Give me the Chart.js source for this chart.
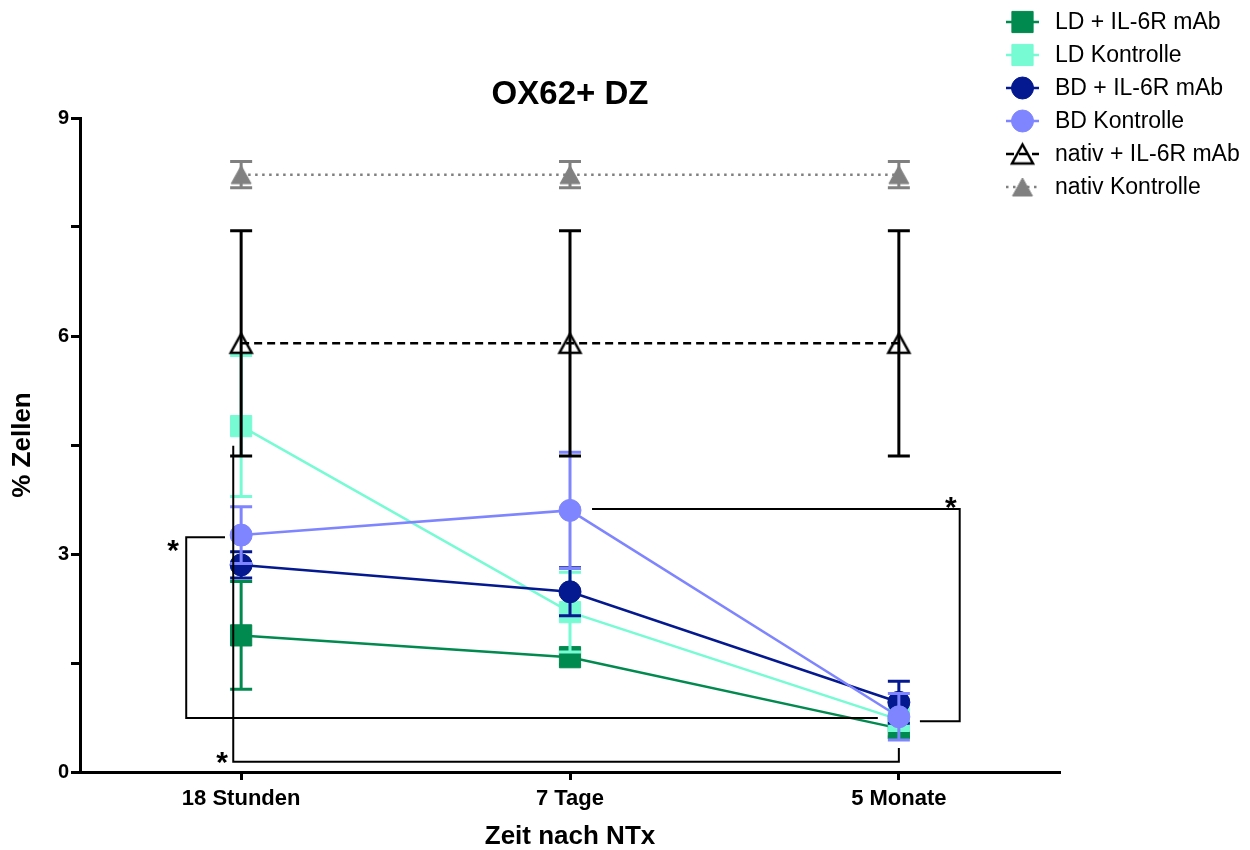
<!DOCTYPE html>
<html>
<head>
<meta charset="utf-8">
<title>OX62+ DZ</title>
<script src="https://cdn.jsdelivr.net/npm/chart.js@4.4.1/dist/chart.umd.min.js"></script>
<style>
  html, body { margin: 0; padding: 0; background: #ffffff; }
  #wrap { width: 1250px; height: 850px; }
</style>
</head>
<body>
<div id="wrap"><canvas id="chart" width="1250" height="850"></canvas></div>
<script>
// ---- data ----------------------------------------------------------------
const timepoints = ['18 Stunden', '7 Tage', '5 Monate'];

const ldMab      = [1.88, 1.58, 0.60];
const ldMabSem   = [0.74, 0.10, 0.12];
const ldCtrl     = [4.76, 2.20, 0.72];
const ldCtrlSem  = [0.97, 0.55, 0.15];
const bdMab      = [2.85, 2.48, 0.96];
const bdMabSem   = [0.18, 0.33, 0.29];
const bdCtrl     = [3.26, 3.60, 0.76];
const bdCtrlSem  = [0.39, 0.80, 0.32];
const natMab     = [5.90, 5.90, 5.90];
const natMabSem  = [1.55, 1.55, 1.55];
const natCtrl    = [8.22, 8.22, 8.22];
const natCtrlSem = [0.18, 0.18, 0.18];

const seriesLabels = ['LD + IL-6R mAb', 'LD Kontrolle', 'BD + IL-6R mAb',
                      'BD Kontrolle', 'nativ + IL-6R mAb', 'nativ Kontrolle'];
const yTickValues = [0, 3, 6, 9];

// significance brackets in axis units (x = timepoint index, y = % Zellen)
const brackets = [
  { path: [[-0.049, 3.23], [-0.167, 3.23], [-0.167, 0.743], [1.936, 0.743]], star: [-0.207, 3.15] },
  { path: [[1.067, 3.62], [2.185, 3.62], [2.185, 0.70], [2.064, 0.70]],     star: [2.158, 3.74] },
  { path: [[-0.024, 4.49], [-0.024, 0.14], [2.0, 0.14], [2.0, 0.33]],       star: [-0.058, 0.23] }
];

// ---- styling ---------------------------------------------------------------
const FONT = "'Liberation Sans', Arial, Helvetica, sans-serif";
Chart.defaults.font.family = FONT;
Chart.defaults.color = '#000000';

// centred triangle marker rendered once to a small canvas
function triangleMarker(w, h, fill, stroke, bw) {
  const pad = Math.ceil(bw) + 1;
  const c = document.createElement('canvas');
  c.width = Math.ceil(w + 2 * pad);
  c.height = Math.ceil(h + 2 * pad);
  const g = c.getContext('2d');
  const cx = c.width / 2, cy = c.height / 2;
  g.beginPath();
  g.moveTo(cx, cy - h / 2);
  g.lineTo(cx + w / 2, cy + h / 2);
  g.lineTo(cx - w / 2, cy + h / 2);
  g.closePath();
  if (fill) { g.fillStyle = fill; g.fill(); }
  if (bw > 0) { g.lineWidth = bw; g.strokeStyle = stroke; g.lineJoin = 'miter'; g.stroke(); }
  return c;
}
const openTriangle = triangleMarker(21, 19, null, '#000000', 2.5);
const greyTriangle = triangleMarker(20, 18, '#808080', '#808080', 1);

const seriesStyles = [
  { values: ldMab,   errors: ldMabSem,   color: '#008A4F', fill: '#008A4F', shape: 'rect',       radius: 15, pbw: 1, dash: [] },
  { values: ldCtrl,  errors: ldCtrlSem,  color: '#76FBD3', fill: '#76FBD3', shape: 'rect',       radius: 15, pbw: 1, dash: [] },
  { values: bdMab,   errors: bdMabSem,   color: '#04188F', fill: '#04188F', shape: 'circle',     radius: 11, pbw: 1, dash: [] },
  { values: bdCtrl,  errors: bdCtrlSem,  color: '#7F85FF', fill: '#7F85FF', shape: 'circle',     radius: 11, pbw: 1, dash: [] },
  { values: natMab,  errors: natMabSem,  color: '#000000', fill: 'rgba(0,0,0,0)', shape: openTriangle, radius: 11, pbw: 0, dash: [8, 5] },
  { values: natCtrl, errors: natCtrlSem, color: '#808080', fill: '#808080', shape: greyTriangle, radius: 11, pbw: 0, dash: [2.5, 4.5] }
];

const datasets = seriesStyles.map((s, i) => ({
  label: seriesLabels[i],
  data: s.values.map((v, k) => ({ x: k, y: v })),
  errors: s.errors,
  borderColor: s.color,
  backgroundColor: s.fill,
  borderWidth: 2.5,
  borderDash: s.dash,
  pointStyle: s.shape,
  pointRadius: s.radius,
  pointHoverRadius: s.radius,
  pointBackgroundColor: s.fill,
  pointBorderColor: s.color,
  pointBorderWidth: s.pbw,
  pointHoverBorderWidth: s.pbw,
  fill: false,
  tension: 0,
  // later series are painted on top
  order: seriesStyles.length - i
}));

// ---- helpers ---------------------------------------------------------------
function drawMarker(ctx, shape, r, x, y, fill, stroke, bw) {
  if (typeof shape !== 'string') {
    ctx.drawImage(shape, x - shape.width / 2, y - shape.height / 2);
    return;
  }
  ctx.save();
  ctx.setLineDash([]);
  ctx.beginPath();
  if (shape === 'rect') {
    const h = r * Math.SQRT1_2;
    ctx.rect(x - h, y - h, 2 * h, 2 * h);
  } else {
    ctx.arc(x, y, r, 0, Math.PI * 2);
  }
  ctx.fillStyle = fill;
  ctx.fill();
  ctx.lineWidth = bw;
  ctx.strokeStyle = stroke;
  ctx.stroke();
  ctx.restore();
}

// SEM bars, painted just beneath each series' own line and markers
const errorBars = {
  id: 'errorBars',
  beforeDatasetDraw(chart, args) {
    const ds = chart.data.datasets[args.index];
    if (!ds.errors) return;
    const ys = chart.scales.y;
    const ctx = chart.ctx;
    const cap = 11;
    ctx.save();
    ctx.strokeStyle = ds.borderColor;
    ctx.lineWidth = 3;
    ctx.setLineDash([]);
    args.meta.data.forEach((pt, k) => {
      const v = ds.data[k].y;
      const e = ds.errors[k];
      const yTop = ys.getPixelForValue(v + e);
      const yBot = ys.getPixelForValue(v - e);
      ctx.beginPath();
      ctx.moveTo(pt.x, yTop); ctx.lineTo(pt.x, yBot);
      ctx.moveTo(pt.x - cap, yTop); ctx.lineTo(pt.x + cap, yTop);
      ctx.moveTo(pt.x - cap, yBot); ctx.lineTo(pt.x + cap, yBot);
      ctx.stroke();
    });
    ctx.restore();
  }
};

// title, significance brackets and legend
const decorations = {
  id: 'decorations',
  afterDraw(chart) {
    const ctx = chart.ctx;
    const xs = chart.scales.x, ys = chart.scales.y;
    const area = chart.chartArea;

    ctx.save();
    ctx.fillStyle = '#000';
    ctx.font = `bold 33px ${FONT}`;
    ctx.textAlign = 'center';
    ctx.textBaseline = 'middle';
    ctx.fillText('OX62+ DZ', (area.left + area.right) / 2, 95);

    // brackets
    ctx.strokeStyle = '#000';
    ctx.lineWidth = 2;
    ctx.setLineDash([]);
    brackets.forEach(b => {
      ctx.beginPath();
      b.path.forEach((p, k) => {
        const px = xs.getPixelForValue(p[0]);
        const py = ys.getPixelForValue(p[1]);
        if (k === 0) ctx.moveTo(px, py); else ctx.lineTo(px, py);
      });
      ctx.stroke();
      ctx.font = `bold 30px ${FONT}`;
      ctx.textBaseline = 'alphabetic';
      ctx.fillText('*', xs.getPixelForValue(b.star[0]), ys.getPixelForValue(b.star[1]) + 17);
    });

    // legend
    const lx0 = 1006, lx1 = 1039, mx = 1022.5, tx = 1055;
    ctx.font = `23px ${FONT}`;
    ctx.textAlign = 'left';
    ctx.textBaseline = 'middle';
    chart.data.datasets.forEach((ds, i) => {
      const s = seriesStyles[i];
      const y = 22 + 33 * i;
      ctx.save();
      ctx.strokeStyle = ds.borderColor;
      ctx.lineWidth = 2.5;
      ctx.setLineDash(s.dash.length ? s.dash : []);
      ctx.beginPath();
      ctx.moveTo(lx0, y); ctx.lineTo(lx1, y);
      ctx.stroke();
      ctx.restore();
      drawMarker(ctx, s.shape, s.radius, mx, y, s.fill, s.color, s.pbw);
      ctx.fillStyle = '#000';
      ctx.fillText(ds.label, tx, y + 1);
    });
    ctx.restore();
  }
};

// ---- chart -----------------------------------------------------------------
new Chart(document.getElementById('chart'), {
  type: 'line',
  data: { datasets },
  options: {
    responsive: false,
    animation: false,
    devicePixelRatio: 1,
    layout: { padding: { top: 118, right: 190, left: 0, bottom: 0 } },
    plugins: {
      legend: { display: false },
      title: { display: false },
      tooltip: { enabled: false }
    },
    scales: {
      x: {
        type: 'linear',
        min: -0.49,
        max: 2.49,
        afterBuildTicks: s => { s.ticks = timepoints.map((_, k) => ({ value: k })); },
        afterFit: s => { s.height = 78; },
        ticks: {
          callback: v => timepoints[v],
          font: { size: 22, weight: 'bold' },
          color: '#000',
          padding: 6,
          maxRotation: 0,
          autoSkip: false
        },
        grid: { drawOnChartArea: false, drawTicks: true, tickLength: 8, tickWidth: 3, tickColor: '#000' },
        border: { display: true, width: 3, color: '#000' },
        title: {
          display: true, text: 'Zeit nach NTx', color: '#000',
          font: { size: 26, weight: 'bold', lineHeight: 1 }, padding: 0
        }
      },
      y: {
        type: 'linear',
        min: 0,
        max: 9,
        afterFit: s => { s.width = 80; },
        ticks: {
          stepSize: 1.5,
          callback: v => (yTickValues.includes(v) ? String(v) : ''),
          font: { size: 20, weight: 'bold' },
          color: '#000',
          padding: 2
        },
        grid: { drawOnChartArea: false, drawTicks: true, tickLength: 9, tickWidth: 3, tickColor: '#000' },
        border: { display: true, width: 3, color: '#000' },
        title: {
          display: true, text: '% Zellen', color: '#000',
          font: { size: 26, weight: 'bold' }, padding: { top: 7, bottom: 0 }
        }
      }
    }
  },
  plugins: [errorBars, decorations]
});
</script>
</body>
</html>
